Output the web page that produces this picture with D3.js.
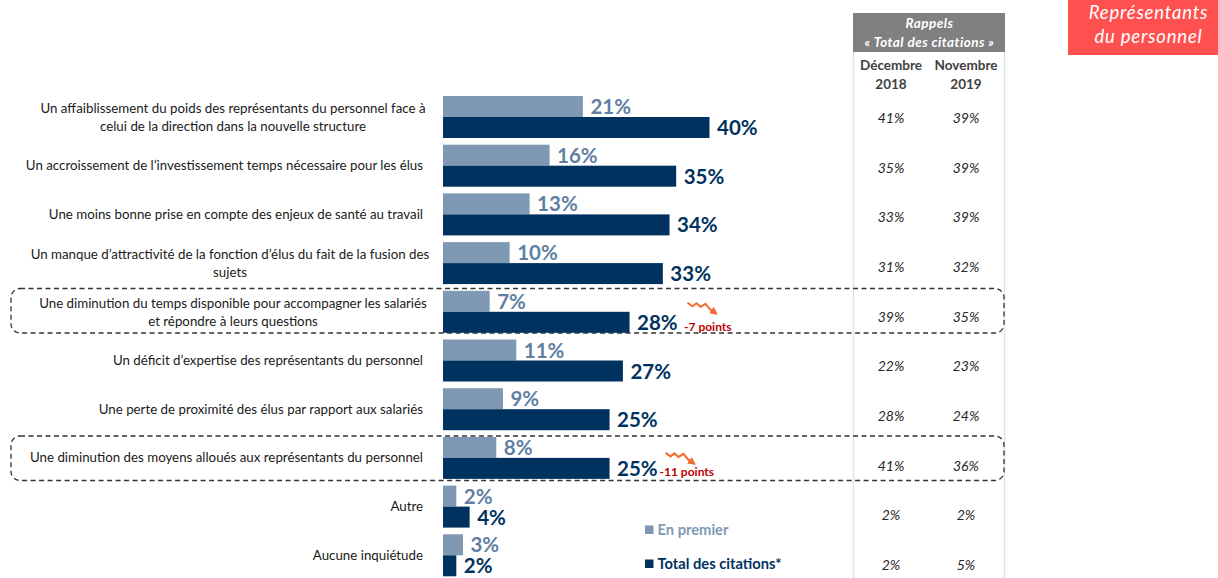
<!DOCTYPE html>
<html><head><meta charset="utf-8">
<script src="https://cdn.jsdelivr.net/npm/d3@7"></script>
<style>html,body{margin:0;padding:0;background:#fff;overflow:hidden}svg{display:block}text{font-family:Lato,"Open Sans",sans-serif}</style>
</head><body><div id="c"></div>
<script>
const categories = [
 ["Un affaiblissement du poids des représentants du personnel face à","celui de la direction dans la nouvelle structure"],
 ["Un accroissement de l’investissement temps nécessaire pour les élus"],
 ["Une moins bonne prise en compte des enjeux de santé au travail"],
 ["Un manque d’attractivité de la fonction d’élus du fait de la fusion des","sujets"],
 ["Une diminution du temps disponible pour accompagner les salariés","et répondre à leurs questions"],
 ["Un déficit d’expertise des représentants du personnel"],
 ["Une perte de proximité des élus par rapport aux salariés"],
 ["Une diminution des moyens alloués aux représentants du personnel"],
 ["Autre"],
 ["Aucune inquiétude"]
];
const enPremier = [21,16,13,10,7,11,9,8,2,3];
const totalCitations = [40,35,34,33,28,27,25,25,4,2];
const decembre2018 = [41,35,33,31,39,22,28,41,2,2];
const novembre2019 = [39,39,39,32,35,23,24,36,2,5];
const seriesNames = ["En premier","Total des citations*"];
const tableTitle = ["Rappels","« Total des citations »"];
const tableColumns = [["Décembre","2018"],["Novembre","2019"]];
const badge = ["Représentants","du personnel"];
const changes = [{row:4,label:"-7 points"},{row:7,label:"-11 points"}];

const W=1218,H=578, LIGHT="#7f99b5", DARK="#00325f", LIGHTTXT="#5f80a3";
const svg=d3.select("#c").append("svg").attr("width",W).attr("height",H);
const x=d3.scaleLinear().domain([0,40]).range([443,709.5]);
const idx=d3.range(categories.length);
const y=d3.scaleBand().domain(idx).range([96,96+48.7*10]).paddingInner(0).paddingOuter(0);
const yTable=d3.scalePoint().domain(idx).range([123,570]);
const bh=21, rowTop=i=>y(i);

// table frame
svg.append("rect").attr("x",853).attr("y",13).attr("width",152).attr("height",39).attr("fill","#808080");
[853.5,1004.5].forEach(px=>svg.append("line").attr("x1",px).attr("x2",px).attr("y1",52).attr("y2",H).attr("stroke","#e3e3e3").attr("stroke-width",1.5));
tableTitle.forEach((t,i)=>svg.append("text").attr("x",929.5).attr("y",[28,47][i]).attr("text-anchor","middle")
  .attr("fill","#fff").attr("font-size",13.5).attr("letter-spacing",0.45).attr("font-weight",700).attr("font-style","italic").text(t));
const colX=d3.scalePoint().domain([0,1]).range([891,966]);
tableColumns.forEach((c,j)=>c.forEach((t,k)=>svg.append("text").attr("x",colX(j)).attr("y",[70,89][k]).attr("text-anchor","middle")
  .attr("fill","#404040").attr("font-size",13.5).attr("font-weight",700).text(t)));

// badge
svg.append("rect").attr("x",1068).attr("y",0).attr("width",150).attr("height",55).attr("fill","#ff5050");
badge.forEach((t,i)=>svg.append("text").attr("x",1148.5).attr("y",[18.5,42.5][i]).attr("text-anchor","middle")
  .attr("fill","#fff").attr("font-size",18.5).attr("font-style","italic").attr("letter-spacing",0.8).text(t));

// highlighted rows
changes.forEach(c=>svg.append("rect").attr("x",11).attr("y",c.row===4?288.5:436).attr("width",993).attr("height",44.5)
  .attr("rx",9).attr("fill","none").attr("stroke","#333").attr("stroke-width",1.3).attr("stroke-dasharray","5 3.5"));

// labels
idx.forEach(i=>{
  const L=categories[i], cy=rowTop(i);
  L.forEach((t,k)=>{
    const two=L.length===2;
    svg.append("text").attr("x",two?(i===3?230:233):423).attr("y",cy+(two?(k?35:17):25.5))
      .attr("text-anchor",two?"middle":"end").attr("fill","#1a1a1a").attr("font-size",13.3).text(t);
  });
});

// bars
const drawSeries=(vals,off,fill,txt)=>{
  const g=svg.append("g");
  g.selectAll("rect").data(vals).join("rect").attr("x",x(0)).attr("y",(d,i)=>rowTop(i)+off)
    .attr("width",d=>x(d)-x(0)).attr("height",bh).attr("fill",fill);
  g.selectAll("text").data(vals).join("text").attr("x",d=>x(d)+7.5).attr("y",(d,i)=>rowTop(i)+off+18)
    .attr("fill",txt).attr("font-size",20.5).attr("font-weight",700).text(d=>d+"%");
};
drawSeries(enPremier,0,LIGHT,LIGHTTXT);
drawSeries(totalCitations,21,DARK,DARK);

// table values
[decembre2018,novembre2019].forEach((arr,j)=>{
  svg.append("g").selectAll("text").data(arr).join("text").attr("x",colX(j)).attr("y",(d,i)=>yTable(i))
    .attr("text-anchor","middle").attr("fill","#262626").attr("font-size",14).attr("font-style","italic").text(d=>d+"%");
});

// change notes
svg.append("defs").append("marker").attr("id","ah").attr("viewBox","0 0 10 10").attr("refX",8).attr("refY",5)
  .attr("markerWidth",8).attr("markerHeight",8).attr("markerUnits","userSpaceOnUse").attr("orient","auto")
  .append("path").attr("d","M0 0L10 5L0 10Z").attr("fill","#f26a2e");
const zig=d3.line();
changes.forEach(c=>{
  const bx=x(totalCitations[c.row]), ty=rowTop(c.row);
  const dx=c.row===4?58:56, by=ty+(c.row===4?18:22);
  svg.append("path").attr("d",zig([[bx+dx,by-6],[bx+dx+5,by-2.5],[bx+dx+9,by-5.5],[bx+dx+13,by-2],[bx+dx+18,by-5],[bx+dx+22,by],[bx+dx+29,by+5]]))
    .attr("fill","none").attr("stroke","#f26a2e").attr("stroke-width",2).attr("marker-end","url(#ah)");
  svg.append("text").attr("x",bx+(c.row===4?54.5:50)).attr("y",ty+(c.row===4?40:39)).attr("fill","#c00000")
    .attr("font-size",12).attr("font-weight",700).text(c.label);
});

// legend
seriesNames.forEach((n,i)=>{
  const ly=[530,564][i];
  svg.append("rect").attr("x",645).attr("y",ly-4.5).attr("width",8.5).attr("height",8.5).attr("fill",i?DARK:LIGHT);
  svg.append("text").attr("x",657.5).attr("y",ly+5).attr("fill",i?DARK:LIGHT).attr("font-size",14.7).attr("font-weight",700).text(n);
});
</script></body></html>
